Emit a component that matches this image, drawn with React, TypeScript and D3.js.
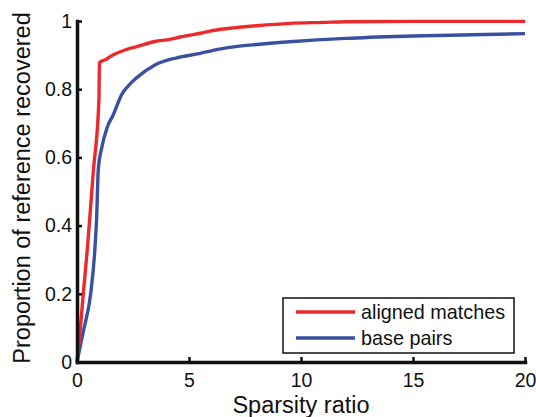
import React, { useRef, useEffect } from 'react'
import * as d3 from 'd3'

// sparsity ratio vs proportion recovered
const alignedX = [0, 0.13, 0.28, 0.46, 0.73, 0.98, 1.0, 1.25, 1.6, 2.14, 2.67, 3.48, 4.15, 4.6, 5.5, 6.08, 7, 8, 9.5, 11, 12, 15, 20]
const alignedY = [0, 0.085, 0.2, 0.33, 0.56, 0.77, 0.878, 0.886, 0.9, 0.915, 0.925, 0.94, 0.946, 0.953, 0.964, 0.972, 0.98, 0.986, 0.993, 0.996, 0.998, 0.999, 0.999]

const pairsX = [0, 0.3, 0.61, 0.8, 0.88, 0.95, 1.1, 1.33, 1.62, 2.0, 2.29, 2.67, 3.48, 4.45, 5.5, 6.08, 7, 8, 9.5, 12, 15, 20]
const pairsY = [0, 0.095, 0.2, 0.333, 0.43, 0.565, 0.627, 0.685, 0.725, 0.785, 0.81, 0.834, 0.871, 0.892, 0.905, 0.914, 0.924, 0.931, 0.939, 0.949, 0.956, 0.963]

const xTicks = [0, 5, 10, 15, 20]
const yTicks = [0, 0.2, 0.4, 0.6, 0.8, 1]

const seriesNames = ['aligned matches', 'base pairs']
const seriesColors = ['#ec2a2c', '#3a51a2']

const W = 536
const H = 417
const FONT = '"Liberation Sans", Arial, Helvetica, sans-serif'

export default function App() {
  const ref = useRef<SVGSVGElement>(null)

  useEffect(() => {
    const svg = d3.select(ref.current)
    svg.selectAll('*').remove()

    const x = d3.scaleLinear().domain([0, 20]).range([77, 525])
    const y = d3.scaleLinear().domain([0, 1]).range([362, 21])

    const series = [
      alignedX.map((v, i) => [v, alignedY[i]] as [number, number]),
      pairsX.map((v, i) => [v, pairsY[i]] as [number, number]),
    ]

    const line = d3.line<[number, number]>()
      .x(d => x(d[0])).y(d => y(d[1]))
      .curve(d3.curveMonotoneX)

    // draw blue first so red sits on top at the origin
    ;[1, 0].forEach(i => {
      svg.append('path')
        .datum(series[i])
        .attr('fill', 'none')
        .attr('stroke', seriesColors[i])
        .attr('stroke-width', 3.4)
        .attr('stroke-linejoin', 'round')
        .attr('d', line)
    })

    const xAxis = d3.axisBottom(x).tickValues(xTicks).tickSizeInner(-5).tickSizeOuter(0).tickPadding(11)
    const yAxis = d3.axisLeft(y).tickValues(yTicks).tickSizeInner(-5).tickSizeOuter(0).tickPadding(5)
      .tickFormat(d => String(d))

    const gx = svg.append('g').attr('transform', `translate(0,${y(0)})`).call(xAxis)
    const gy = svg.append('g').attr('transform', `translate(${x(0)},0)`).call(yAxis)

    ;[gx, gy].forEach(g => {
      g.select('.domain').attr('stroke', '#111').attr('stroke-width', 3.5).attr('stroke-linecap', 'square')
      g.selectAll('.tick line').attr('stroke', '#111').attr('stroke-width', 2.5)
      g.selectAll('.tick text').attr('fill', '#111').style('font-family', FONT).style('font-size', '19.5px')
    })

    svg.append('text')
      .attr('x', (x(0) + x(20)) / 2)
      .attr('y', 413)
      .attr('text-anchor', 'middle')
      .style('font-family', FONT)
      .style('font-size', '23.5px')
      .attr('fill', '#111')
      .text('Sparsity ratio')

    svg.append('text')
      .attr('transform', `translate(30,${188}) rotate(-90)`)
      .attr('text-anchor', 'middle')
      .style('font-family', FONT)
      .style('font-size', '23.5px')
      .attr('fill', '#111')
      .text('Proportion of reference recovered')

    // legend
    const lg = svg.append('g')
    lg.append('rect')
      .attr('x', 283).attr('y', 298).attr('width', 231).attr('height', 55)
      .attr('fill', '#fff').attr('stroke', '#111').attr('stroke-width', 1.5)
    seriesNames.forEach((name, i) => {
      const cy = 312 + i * 26
      lg.append('line')
        .attr('x1', 296).attr('x2', 355).attr('y1', cy).attr('y2', cy)
        .attr('stroke', seriesColors[i]).attr('stroke-width', 3.4)
      lg.append('text')
        .attr('x', 361).attr('y', cy + 7)
        .style('font-family', FONT)
        .style('font-size', '19.8px')
        .attr('fill', '#111')
        .text(name)
    })
  }, [])

  return (
    <svg ref={ref} width={W} height={H}
      style={{ position: 'absolute', left: 0, top: 0, background: '#fff' }} />
  )
}
